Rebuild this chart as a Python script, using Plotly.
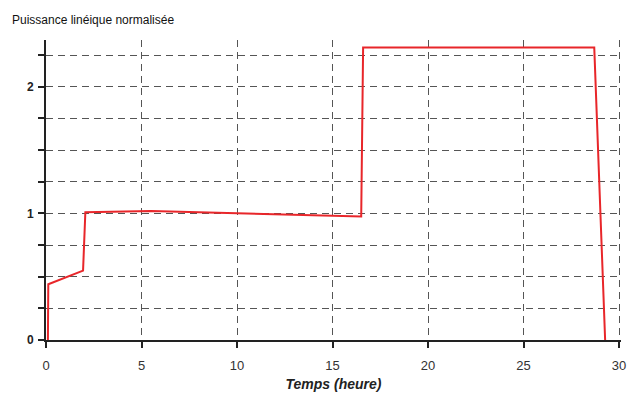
import plotly.graph_objects as go

temps = [0.10, 0.12, 1.94, 2.06, 5.5, 10.0, 16.5, 16.6, 22.0, 28.7, 29.27]
puissance = [0.0, 0.44, 0.548, 1.01, 1.02, 1.0, 0.975, 2.31, 2.31, 2.31, 0.0]

x_ticks = [0, 5, 10, 15, 20, 25, 30]
y_ticks = [0, 1, 2]

fig = go.Figure()
fig.add_trace(go.Scatter(x=temps, y=puissance, mode="lines",
                         line=dict(color="#e8262a", width=2), showlegend=False))

grid = dict(showgrid=True, gridcolor="#555", gridwidth=1.4, griddash="7px,5px")
fig.update_xaxes(range=[0, 30.1], tickvals=x_ticks, ticks="outside", ticklen=6,
                 tickcolor="#222", tickwidth=1.5, ticklabelstandoff=6,
                 ticklabeloverflow="allow", automargin=False,
                 showline=True, linecolor="#222", linewidth=2, zeroline=False,
                 tickfont=dict(family="Liberation Sans, Arial", size=13, color="#333"),
                 title=dict(text="Temps (heure)", standoff=8,
                            font=dict(family="Liberation Sans, Arial", size=14,
                                      color="#222", weight="bold", style="italic")),
                 **grid)
fig.update_yaxes(range=[0, 2.37], tickvals=y_ticks, ticks="outside", ticklen=6,
                 tickcolor="#222", tickwidth=1.5, ticklabelstandoff=2,
                 showline=True, linecolor="#222", linewidth=2, zeroline=False,
                 automargin=False,
                 tickfont=dict(family="Liberation Sans, Arial", size=12, color="#222",
                               weight="bold"),
                 minor=dict(dtick=0.25, tick0=0, ticks="outside", ticklen=6,
                            tickcolor="#222", showgrid=True, gridcolor="#555",
                            gridwidth=1.4, griddash="7px,5px"),
                 **grid)

fig.update_layout(
    width=629, height=394,
    margin=dict(l=46, r=8, t=40, b=54),
    plot_bgcolor="white", paper_bgcolor="white",
    annotations=[dict(text="Puissance linéique normalisée", x=0, y=1,
                      xref="paper", yref="paper", xshift=-36, yshift=29,
                      xanchor="left", yanchor="top", showarrow=False,
                      font=dict(family="Liberation Sans, Arial", size=12, color="#111"))],
)
fig.write_html("out.html")
